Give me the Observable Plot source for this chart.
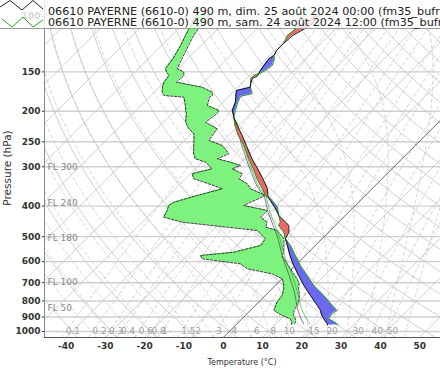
<!DOCTYPE html>
<html><head><meta charset="utf-8">
<script src="https://cdn.jsdelivr.net/npm/d3@7"></script>
<script src="https://cdn.jsdelivr.net/npm/@observablehq/plot@0.6"></script>
<style>
body{margin:0;background:#fff;}
#chart{width:440px;height:370px;overflow:hidden;}
g[aria-label$="tick label"]{font-weight:bold;}
</style></head><body><div id="chart"></div>
<script>
// ---- data ----
const legendLabels = [
  "06610 PAYERNE (6610-0) 490 m, dim. 25 août 2024 00:00 (fm35_bufr)",
  "06610 PAYERNE (6610-0) 490 m, sam. 24 août 2024 12:00 (fm35_bufr)"
];
const pressureTicks = [100,150,200,250,300,400,500,600,700,800,900,1000];
const tempTicks = [-40,-30,-20,-10,0,10,20,30,40,50];
const mixingRatios = [0.1,0.2,0.3,0.4,0.6,0.8,1,1.5,2,3,4,6,8,10,15,20,30,40,50];
const flightLevels = [50,100,180,240,300];

// temperature (°C) of both soundings on common levels (hPa)
const tempLevels = [97.9,106.8,114.9,121.8,128.2,133.0,136.3,143.1,148.4,152.1,154.0,157.7,163.6,167.7,171.8,176.0,179.1,187.2,198.8,208.8,221.9,238.7,256.8,283.0,304.5,327.6,352.4,370.1,383.9,403.1,428.4,449.9,460.9,484.0,507.9,533.4,573.9,617.4,664.2,714.6,768.7,827.0,857.8,878.8,911.5,945.5,954];
const temp00 = [-57.6,-57.2,-59.2,-59.5,-59.5,-58.9,-59.3,-58.9,-58.5,-58.1,-57.9,-58.5,-57.6,-56.8,-59.5,-58.8,-58.2,-56.8,-55.5,-53.4,-50.4,-46.6,-43.0,-38.2,-34.2,-30.3,-26.6,-24.8,-22.9,-20.1,-16.9,-13.5,-11.8,-10.1,-9.3,-7.1,-3.9,-0.4,3.4,7.3,11.5,15.8,17.9,18.9,20.8,23.0,23.3];
const temp12 = [-58.0,-59.8,-60.5,-59.5,-59.5,-58.9,-57.9,-56.8,-57.2,-58.1,-58.9,-58.9,-57.6,-56.8,-55.7,-54.7,-57.0,-56.2,-54.7,-53.4,-51.0,-47.6,-43.6,-39.0,-35.3,-31.8,-27.9,-25.4,-22.4,-19.4,-16.9,-14.8,-14.4,-11.4,-9.3,-6.3,-2.5,1.3,5.6,9.8,14.9,19.6,22.1,21.7,22.1,25.5,26.1];

// dew point (°C) of both soundings
const dewLevels = [97.9,106.8,114.9,123.6,136.0,146.3,150.3,154.0,161.7,167.7,174.0,178.2,180.4,191.7,198.8,203.3,216.6,227.3,235.8,247.6,256.8,272.9,283.0,290.2,297.2,304.5,315.8,327.6,339.8,352.4,370.1,388.7,398.2,413.0,433.7,449.9,466.6,478.0,507.9,533.4,560.2,573.9,587.8,609.8,632.4,656.0,680.4,705.8,732.0,768.7,807.3,857.8,889.8,911.5,934.5,950];
const dew00 = [-89.3,-87.7,-86.5,-85.2,-83.8,-83.2,-82.0,-80.5,-80.1,-79.2,-78.0,-76.7,-71.2,-68.7,-67.4,-66.4,-64.4,-61.9,-59.3,-57.6,-56.4,-54.3,-52.6,-49.1,-47.5,-45.8,-49.6,-47.9,-42.8,-38.1,-42.8,-47.0,-47.5,-46.6,-45.8,-39.8,-27.1,-18.6,-14.4,-13.9,-19.0,-26.7,-25.4,-14.4,-11.4,-3.8,0.1,1.7,3.0,4.3,4.7,6.0,9.4,12.3,13.6,14.0];
const dew12 = [-85.7,-85.2,-84.4,-83.2,-81.5,-80.2,-77.6,-76.7,-76.9,-69.1,-65.2,-64.4,-64.7,-63.1,-58.9,-58.6,-59.3,-54.7,-54.3,-53.8,-49.1,-45.3,-47.0,-42.8,-39.4,-40.7,-36.8,-36.4,-33.0,-30.9,-25.4,-27.5,-28.4,-21.1,-21.1,-18.2,-17.3,-13.5,-9.7,-8.0,-6.3,-5.9,-4.6,-2.5,-0.4,1.7,3.9,5.6,6.8,8.7,10.2,11.1,12.3,13.6,14.5,14.6];

// wet-bulb temperature (°C)
const wbLevels = [216.6,256.8,304.5,344.0,374.7,418.2,460.9,507.9,587.8,664.2,750.5,847.2,911.5,945.5];
const wb00 = [-51.6,-44.2,-36.2,-30.2,-25.2,-20.5,-15.8,-11.2,-4.8,1.0,6.6,11.6,15.0,17.0];
const wb12 = [-51.3,-43.8,-35.8,-29.8,-24.8,-20.0,-15.3,-10.7,-4.2,1.8,7.4,12.6,16.4,18.5];

// ---- skew-T geometry ----
const P0 = 1045, PTOP = 89, SKEW = 34.83;
const sx = (T, p) => T + SKEW * Math.log(P0 / p);
const pGrid = d3.range(0, 121).map(i => P0 * Math.pow(PTOP / P0, i / 120));

function dewFromMix(w, p) {
  const e = w * p / (622 + w);
  const l = Math.log(e / 6.112);
  return 243.5 * l / (17.67 - l);
}

// isotherms
const isoRows = [];
for (const T of d3.range(-140, 60, 10)) if (T !== 0) {
  isoRows.push({id: T, x: sx(T, P0), p: P0}, {id: T, x: sx(T, PTOP), p: PTOP});
}
const zeroRows = [{x: sx(0, P0), p: P0}, {x: sx(0, PTOP), p: PTOP}];

// dry adiabats
const dryRows = [];
for (const th of d3.range(-50, 230, 10)) for (const p of pGrid) {
  const T = (th + 273.15) * Math.pow(p / 1000, 0.2857) - 273.15;
  dryRows.push({id: th, x: sx(T, p), p});
}

// moist adiabats
function moist(T0) {
  const Rd = 287.04, Cp = 1005.7, Lv = 2.501e6, eps = 0.622;
  const f = (p, Tk) => {
    const Tc = Tk - 273.15;
    const e = 6.112 * Math.exp(17.67 * Tc / (Tc + 243.5));
    const rs = eps * e / (p - e);
    return (Rd * Tk + Lv * rs) / (p * (Cp + Lv * Lv * rs * eps / (Rd * Tk * Tk)));
  };
  const up = [], down = [];
  let Tk = T0 + 273.15, p = 1000;
  up.push([p, Tk]);
  while (p > PTOP) { const dp = -3; const k1 = f(p, Tk); const k2 = f(p + dp / 2, Tk + k1 * dp / 2); Tk += k2 * dp; p += dp; up.push([p, Tk]); }
  Tk = T0 + 273.15; p = 1000;
  while (p < P0) { const dp = 3; const k1 = f(p, Tk); const k2 = f(p + dp / 2, Tk + k1 * dp / 2); Tk += k2 * dp; p += dp; down.push([p, Tk]); }
  return down.reverse().concat(up);
}
const moistRows = [];
for (const T0 of d3.range(-35, 50, 5)) for (const [p, Tk] of moist(T0)) moistRows.push({id: T0, x: sx(Tk - 273.15, p), p});

// mixing ratio lines
const mixRows = [];
for (const w of mixingRatios) for (const p of pGrid) mixRows.push({id: w, x: sx(dewFromMix(w, p), p), p});
const mixLabels = mixingRatios.map(w => ({x: sx(dewFromMix(w, 1000), 1000), p: 1000, t: String(w)}));

// flight levels (standard atmosphere)
const flRows = flightLevels.map(fl => ({p: 1013.25 * Math.pow(1 - 2.25577e-5 * fl * 30.48, 5.25588), t: "FL " + fl}));

// profiles
const tRows = tempLevels.map((p, i) => ({p, a: sx(temp00[i], p), b: sx(temp12[i], p)}));
const dRows = dewLevels.map((p, i) => ({p, a: sx(dew00[i], p), b: sx(dew12[i], p)}));
const wRows = wbLevels.map((p, i) => ({p, a: sx(wb00[i], p), b: sx(wb12[i], p)}));

const gridGray = "#c3c3c3";
const chart = Plot.plot({
  width: 440, height: 370,
  marginLeft: 44, marginRight: 0, marginTop: 0, marginBottom: 33,
  style: {fontFamily: "DejaVu Sans", background: "white", overflow: "hidden"},
  x: {domain: [-45.5, 55.3]},
  y: {type: "log", domain: [P0, PTOP]},
  marks: [
    Plot.ruleY(pressureTicks, {stroke: "#cfcfcf", strokeWidth: 1.4, clip: true}),
    Plot.line(isoRows, {x: "x", y: "p", z: "id", stroke: gridGray, strokeWidth: 0.8, clip: true}),
    Plot.line(dryRows, {x: "x", y: "p", z: "id", stroke: gridGray, strokeWidth: 0.8, clip: true}),
    Plot.line(moistRows, {x: "x", y: "p", z: "id", stroke: "#c8c8c8", strokeWidth: 0.8, strokeDasharray: "3,3", clip: true}),
    Plot.line(mixRows, {x: "x", y: "p", z: "id", stroke: "#c8c8c8", strokeWidth: 0.8, strokeDasharray: "3,3", clip: true}),
    Plot.line(zeroRows, {x: "x", y: "p", stroke: "#555", strokeWidth: 0.9, clip: true}),
    Plot.text(flRows, {y: "p", text: "t", frameAnchor: "left", textAnchor: "start", dx: 3, fill: "#888", fontSize: 9}),
    Plot.text(mixLabels, {x: "x", y: "p", text: "t", textAnchor: "start", fill: "#a0a0a0", fontSize: 8.8, clip: true}),
    // dew point difference
    Plot.areaX(dRows, {y: "p", x1: "a", x2: "b", fill: "#7ef27e", clip: true}),
    Plot.lineX(dRows, {x: "a", y: "p", stroke: "#111", strokeWidth: 0.8, strokeDasharray: "2.5,1.5", clip: true}),
    Plot.lineX(dRows, {x: "b", y: "p", stroke: "#111", strokeWidth: 0.8, strokeDasharray: "2.5,1.5", clip: true}),
    // wet bulb
    Plot.lineX(wRows, {x: "a", y: "p", stroke: "#333", strokeWidth: 0.6, clip: true}),
    Plot.lineX(wRows, {x: "b", y: "p", stroke: "#2a9a2a", strokeWidth: 0.6, clip: true}),
    // temperature difference
    Plot.areaX(tRows, {y: "p", x1: "b", x2: d => Math.max(d.a, d.b), fill: "#ee6868", clip: true}),
    Plot.areaX(tRows, {y: "p", x1: d => Math.min(d.a, d.b), x2: "b", fill: "#6a6af0", clip: true}),
    Plot.lineX(tRows, {x: "b", y: "p", stroke: "#1e9a1e", strokeWidth: 1, clip: true}),
    Plot.lineX(tRows, {x: "a", y: "p", stroke: "#111", strokeWidth: 1, clip: true}),
    // axes
    Plot.ruleX([-45.5], {stroke: "#888", strokeWidth: 1}),
    Plot.ruleY([P0], {stroke: "#555", strokeWidth: 1.2}),
    Plot.axisY({ticks: pressureTicks, tickSize: 2, tickPadding: 2, tickFormat: d => String(d), fontWeight: "bold", fontSize: 9, color: "#333", label: null}),
    Plot.axisX({ticks: tempTicks, tickSize: 0, tickPadding: 5, tickFormat: d => String(d), fontWeight: "bold", fontSize: 9, color: "#333", label: null})
  ]
});

const svg = d3.select(chart);
svg.append("text").attr("transform", "translate(8,168) rotate(-90)")
  .attr("text-anchor", "middle").attr("dominant-baseline", "middle")
  .attr("font-size", 10.5).attr("fill", "#333").text("Pressure (hPa)");
svg.append("text").attr("x", 242).attr("y", 362)
  .attr("text-anchor", "middle").attr("dominant-baseline", "middle")
  .attr("font-size", 8).attr("fill", "#333").text("Temperature (°C)");

// legend header
const hdr = svg.append("g").attr("text-anchor", "start");
hdr.append("rect").attr("x", 0).attr("y", 0).attr("width", 440).attr("height", 28.5).attr("fill", "white").attr("fill-opacity", 0.8);
hdr.append("line").attr("x1", 0).attr("x2", 440).attr("y1", 28.5).attr("y2", 28.5).attr("stroke", "#999");
hdr.append("polyline").attr("points", "0,7 10,0.5 22,10 33,0.5 43,9").attr("fill", "none").attr("stroke", "#222").attr("stroke-width", 1);
hdr.append("polyline").attr("points", "2,19 12,27 23,17 33,27 43,20").attr("fill", "none").attr("stroke", "#22b022").attr("stroke-width", 1);
legendLabels.forEach((t, i) => hdr.append("text").attr("x", 48).attr("y", 15 + i * 11)
  .attr("text-anchor", "start").attr("font-size", 11.2).attr("fill", "#222").text(t));

document.getElementById("chart").appendChild(chart);
</script>
</body></html>
